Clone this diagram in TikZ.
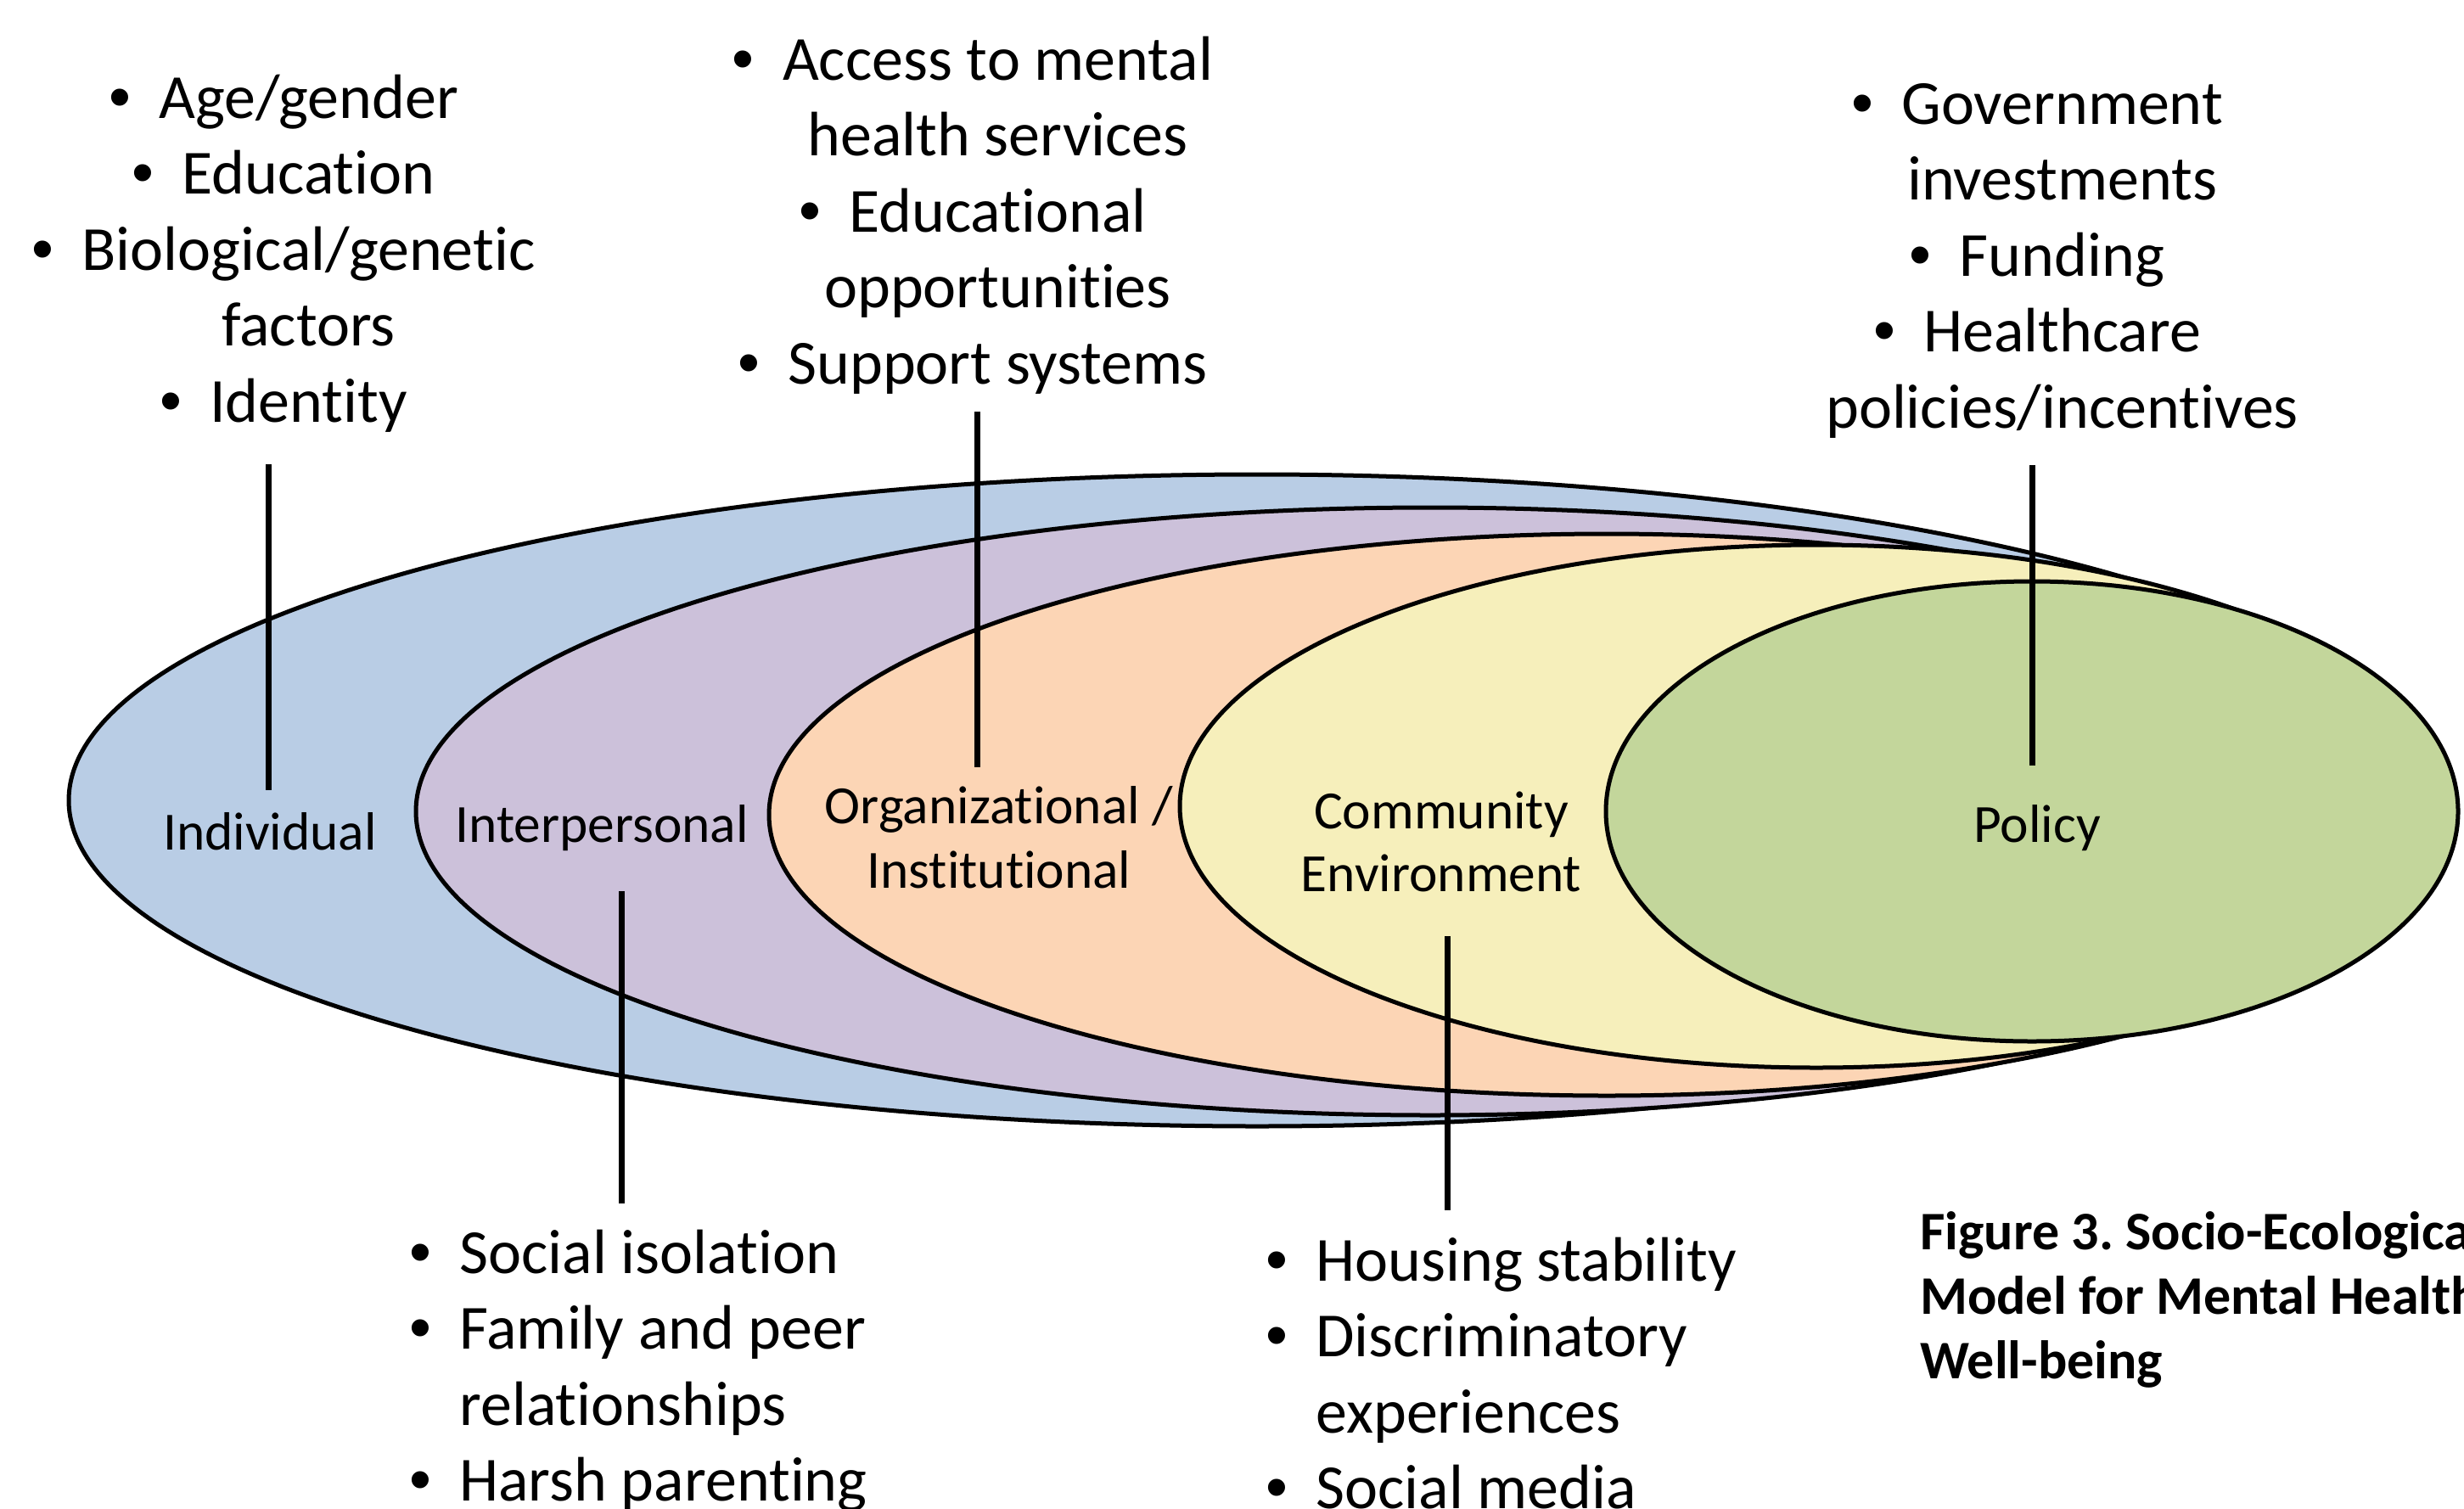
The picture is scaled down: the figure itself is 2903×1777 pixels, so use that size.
\documentclass[tikz,border=0pt]{standalone}
\usepackage{fontspec}
\setmainfont{Carlito}[Ligatures={NoCommon,NoRequired,NoContextual}]
\newfontfamily\bulfont{Liberation Sans}
\frenchspacing
\newcommand\itembul{\makebox[0.8em][l]{\bulfont •}}
\newcommand\itemcont{\hspace*{0.8em}}
\definecolor{lvlblue}{HTML}{B9CDE5}
\definecolor{lvlpurple}{HTML}{CCC1DA}
\definecolor{lvlorange}{HTML}{FCD5B5}
\definecolor{lvlyellow}{HTML}{F6EFBB}
\definecolor{lvlgreen}{HTML}{C3D69B}
\tikzset{
  ring/.style={draw=black, line width=5pt},
  stem/.style={draw=black, line width=7pt},
  listline/.style={font=\fontsize{74}{89.6}\selectfont, anchor=base, inner sep=0pt},
  listleft/.style={listline, anchor=base west},
  levellabel/.style={font=\fontsize{63.4}{76}\selectfont, anchor=base, inner sep=0pt},
  captionline/.style={font=\bfseries\fontsize{64}{76}\selectfont, anchor=base west, inner sep=0pt}
}
\begin{document}
\begin{tikzpicture}[x=1pt, y=-1pt]
\useasboundingbox (0,0) rectangle (2903,1777);
\fill[white] (0,0) rectangle (2903,1777);

% nested levels of the model, outermost first
\draw[ring, fill=lvlblue]   (1481,943) ellipse [x radius=1400, y radius=384];
\draw[ring, fill=lvlpurple] (1685,956) ellipse [x radius=1195, y radius=358];
\draw[ring, fill=lvlorange] (1893,960) ellipse [x radius=987,  y radius=331];
\draw[ring, fill=lvlyellow] (2140,950) ellipse [x radius=750,  y radius=308];
\draw[ring, fill=lvlgreen]  (2394,956) ellipse [x radius=502,  y radius=271];

% level names
\node[levellabel] (lvInd)  at (318,1001) {Individual};
\node[levellabel] (lvInt)  at (709,992)  {Interpersonal};
\node[levellabel] (lvOrgA) at (1177,970) {Organizational /};
\node[levellabel] (lvOrgB) at (1177,1046) {Institutional};
\node[levellabel] (lvComA) at (1698,976) {Community};
\node[levellabel] (lvComB) at (1698,1050) {Environment};
\node[levellabel] (lvPol)  at (2400,992) {Policy};

% factor lists above the levels
\node[listline] (ind1) at (334,139)   {\itembul Age/gender};
\node[listline] (ind2) at (334,228.6) {\itembul Education};
\node[listline] (ind3) at (334,318.2) {\itembul Biological/genetic};
\node[listline] (ind4) at (334,407.8) {\itemcont factors};
\node[listline] (ind5) at (334,497.4) {\itembul Identity};

\node[listline] (org1) at (1146,94)    {\itembul Access to mental};
\node[listline] (org2) at (1146,183.6) {\itemcont health services};
\node[listline] (org3) at (1146,273.2) {\itembul Educational};
\node[listline] (org4) at (1146,362.8) {\itemcont opportunities};
\node[listline] (org5) at (1146,452.4) {\itembul Support systems};

\node[listline] (pol1) at (2400,146)   {\itembul Government};
\node[listline] (pol2) at (2400,235.6) {\itemcont investments};
\node[listline] (pol3) at (2400,325.2) {\itembul Funding};
\node[listline] (pol4) at (2400,414.8) {\itembul Healthcare};
\node[listline] (pol5) at (2400,504.4) {\itemcont policies/incentives};

% factor lists below the levels
\node[listleft] (int1) at (482,1500)   {\itembul Social isolation};
\node[listleft] (int2) at (482,1589.6) {\itembul Family and peer};
\node[listleft] (int3) at (482,1679.2) {\itemcont relationships};
\node[listleft] (int4) at (482,1768.8) {\itembul Harsh parenting};

\node[listleft] (com1) at (1491,1509)   {\itembul Housing stability};
\node[listleft] (com2) at (1491,1598.6) {\itembul Discriminatory};
\node[listleft] (com3) at (1491,1688.2) {\itemcont experiences};
\node[listleft] (com4) at (1491,1777.8) {\itembul Social media};

% leader lines from each list to its level
\coordinate (indTop) at (316,547);  \coordinate (indBot) at (316,931);
\coordinate (orgTop) at (1151,485); \coordinate (orgBot) at (1151,904);
\coordinate (polTop) at (2394,548); \coordinate (polBot) at (2394,902);
\coordinate (intTop) at (732,1050); \coordinate (intBot) at (732,1418);
\coordinate (comTop) at (1705,1103); \coordinate (comBot) at (1705,1426);
\draw[stem] (indTop) -- (indBot);
\draw[stem] (orgTop) -- (orgBot);
\draw[stem] (polTop) -- (polBot);
\draw[stem] (intTop) -- (intBot);
\draw[stem] (comTop) -- (comBot);

% caption
\begin{scope}
\clip (0,0) rectangle (2903,1777);
\node[captionline] (cap1) at (2262,1472) {Figure 3. Socio-Ecological};
\node[captionline] (cap2) at (2262,1548) {Model for Mental Health};
\node[captionline] (cap3) at (2262,1624) {Well-being};
\end{scope}
\end{tikzpicture}
\end{document}
